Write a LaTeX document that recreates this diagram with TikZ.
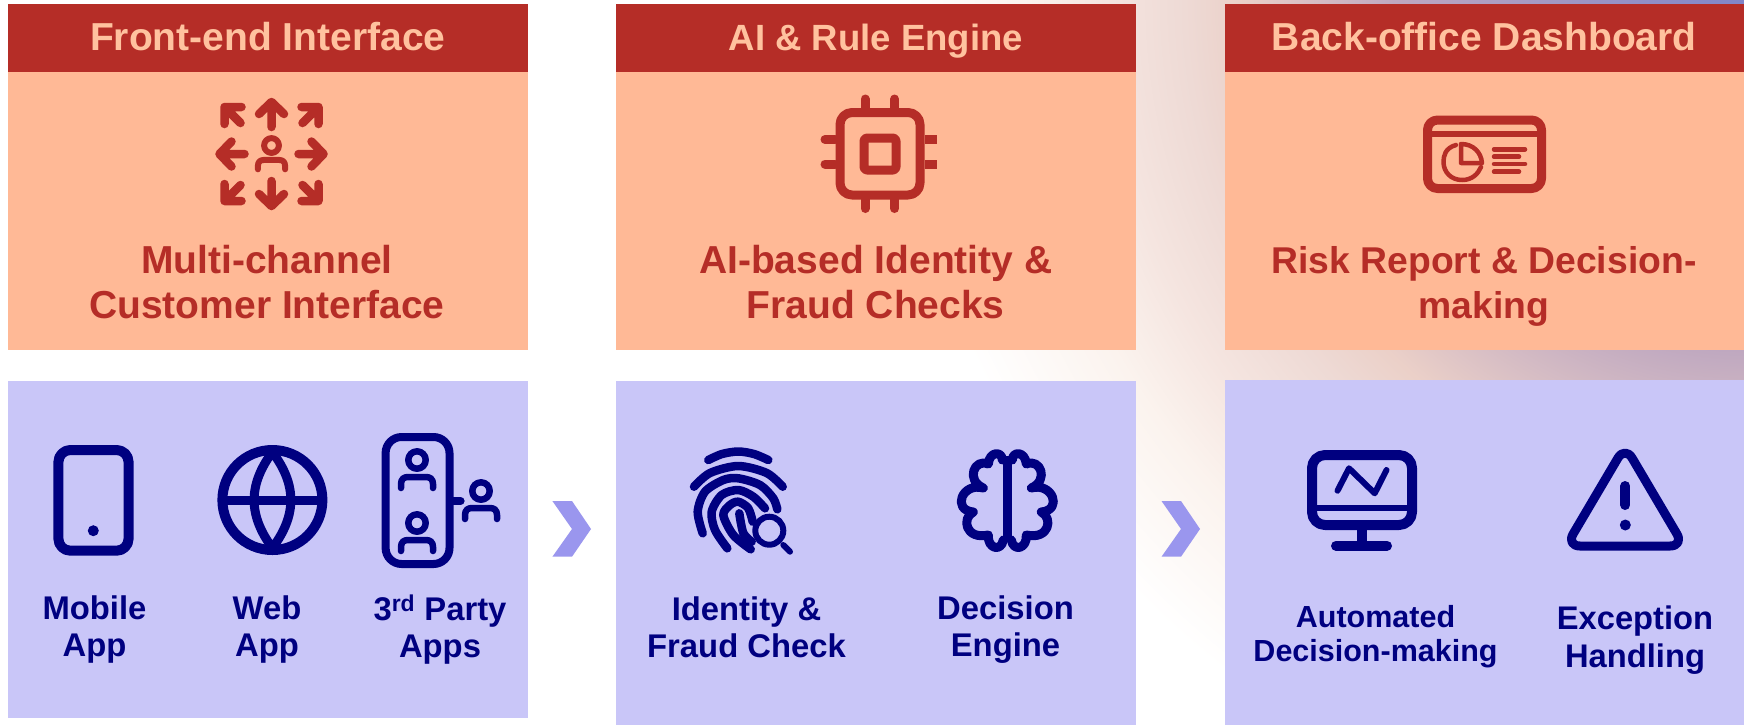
\documentclass[tikz,border=0pt]{standalone}
\usepackage{fontspec}
\usepackage{xcolor}
\usetikzlibrary{positioning}
\setmainfont{Liberation Sans}
\definecolor{headred}{HTML}{B52D27}
\definecolor{bodypeach}{HTML}{FFB996}
\definecolor{headtext}{HTML}{FFC29F}
\definecolor{lowlilac}{HTML}{C9C6F8}
\definecolor{navyink}{HTML}{000080}
\definecolor{chevron}{HTML}{9A96EE}
\definecolor{glowa}{HTML}{7F85C9}
\definecolor{glowb}{HTML}{BFA8C0}
\definecolor{glowc}{HTML}{EBD0C8}
\definecolor{glowd}{HTML}{EEDAD5}
\definecolor{glowe}{HTML}{F5E5E0}
\definecolor{glowf}{HTML}{FBF3EE}
\pgfdeclareradialshading{cornerglow}{\pgfpoint{0bp}{0bp}}{%
color(0bp)=(glowa);
color(10.3bp)=(glowb);
color(14.7bp)=(glowc);
color(16.45bp)=(glowd);
color(18.8bp)=(glowe);
color(21.2bp)=(glowf);
color(25bp)=(white);
color(50bp)=(white)}
\newcommand{\personicon}[3]{
\begin{scope}[shift={(#1,#2)},scale=#3]
\draw (0,0) circle (8.7);
\draw (-16,28) -- (-16,24) .. controls (-16,19) and (-13,17) .. (-9,17) -- (9,17) .. controls (13,17) and (16,19) .. (16,24) -- (16,28);
\end{scope}
}
\begin{document}
\begin{tikzpicture}[x=1pt,y=-1pt,
headbox/.style={fill=headred,text=headtext,minimum width=519.5pt,minimum height=68pt,inner sep=0pt,text height=24pt,text depth=0pt,font=\fontsize{39}{45}\selectfont\bfseries},
bodybox/.style={fill=bodypeach,minimum width=519.5pt,minimum height=278pt,inner sep=0pt,below=0pt of #1},
lowbox/.style={fill=lowlilac,minimum width=519.5pt,inner sep=0pt},
bodytitle/.style={text=headred,align=center,inner sep=0pt,font=\fontsize{39}{45}\selectfont\bfseries},
lowtitle/.style={text=navyink,align=center,inner sep=0pt,font=\fontsize{32.8}{37}\selectfont\bfseries},
redicon/.style={draw=headred,line cap=round,line join=round},
navyicon/.style={draw=navyink,line cap=round,line join=round},
arrowmark/.style={fill=chevron}]
\useasboundingbox (0,0) rectangle (1744,724);
\fill[white] (0,0) rectangle (1744,724);
\begin{scope}
\clip (0,0) rectangle (1744,724);
\shade[shading=cornerglow] (1744,0) circle (850);
\end{scope}

\node[headbox] (head1) at (267.75,38) {Front-end Interface};
\node[bodybox=head1] (body1) {};
\node[lowbox,minimum height=337pt,below=30pt of body1] (low1) {};
\node[headbox,font=\fontsize{36.5}{45}\selectfont\bfseries] (head2) at (875.75,38) {AI \& Rule Engine};
\node[bodybox=head2] (body2) {};
\node[lowbox,minimum height=344pt,below=30pt of body2] (low2) {};
\node[headbox] (head3) at (1484.25,38) {Back-office Dashboard};
\node[bodybox=head3] (body3) {};
\node[lowbox,minimum height=345pt,below=29pt of body3] (low3) {};

\node[bodytitle] (title1) at (267,282) {Multi-channel\\Customer Interface};
\node[bodytitle] (title2) at (875.75,282) {AI-based Identity \&\\Fraud Checks};
\node[bodytitle,font=\fontsize{37.3}{45}\selectfont\bfseries] (title3) at (1484,286) {Risk Report \& Decision-\\making};

\node[lowtitle] (mobile) at (94.5,630) {Mobile\\App};
\node[lowtitle] (web) at (267,630) {Web\\App};
\node[lowtitle] (third) at (440,630) {3\textsuperscript{rd} Party\\Apps};
\node[lowtitle] (identity) at (746.5,627) {Identity \&\\Fraud Check};
\node[lowtitle] (decision) at (1005.5,630) {Decision\\Engine};
\node[lowtitle,font=\fontsize{30.5}{34}\selectfont\bfseries] (automated) at (1375.5,637) {Automated\\Decision-making};
\node[lowtitle,font=\fontsize{32.7}{38.5}\selectfont\bfseries] (exception) at (1635,640) {Exception\\Handling};

\fill[arrowmark] (552.4,501) -- (572,501) -- (591,529) -- (572,556.7) -- (552.4,556.7) -- (572,529) -- cycle;
\fill[arrowmark] (1161.5,501) -- (1181,501) -- (1200,529) -- (1181,556.7) -- (1161.5,556.7) -- (1181,529) -- cycle;

\begin{scope}[shift={(271.5,154)},redicon,line width=8.5pt]
\foreach \a in {0,90,180,270} {
\draw[rotate=\a] (0,-27) -- (0,-50) (-12.5,-40) -- (0,-52) -- (12.5,-40);
\draw[rotate=\a] (-30,-47) -- (-47,-47) -- (-47,-30) (-47,-47) -- (-31,-31);
}
\end{scope}
\begin{scope}[redicon,line width=6pt]
\personicon{271.5}{145.5}{.85}
\end{scope}

\begin{scope}[redicon,line width=9pt]
\draw[rounded corners=12pt] (840,112.5) rectangle (920,195);
\draw[rounded corners=3pt] (864,138) rectangle (896,170);
\foreach \p in {865,894.6} {
\draw (\p,99) -- (\p,108);
\draw (\p,199) -- (\p,208.5);
}
\foreach \p in {139.5,164} {
\draw (825,\p) -- (835,\p);
\draw[line cap=butt] (925,\p) -- (937,\p);
}
\end{scope}

\begin{scope}[redicon,line width=9pt]
\draw[rounded corners=10pt] (1427.5,120) rectangle (1541.5,188.5);
\draw[line width=5.5pt,line cap=butt] (1427.5,134) -- (1541.5,134);
\draw[line width=4.5pt] (1456,145) .. controls (1445,148) and (1443.5,156) .. (1443.5,162) .. controls (1443.5,172) and (1451,180) .. (1462,180) .. controls (1472,180) and (1478,174) .. (1481,167);
\draw[line width=4.5pt] (1461,144) -- (1461,163) -- (1482,163) .. controls (1481,152) and (1473,144) .. (1461,144);
\draw[line width=4.5pt] (1494,149.3) -- (1525,149.3) (1494,156.7) -- (1519,156.7) (1494,164) -- (1525,164) (1494,171.7) -- (1519,171.7);
\end{scope}

\begin{scope}[navyicon,line width=10pt]
\draw[rounded corners=12pt] (58.4,450) rectangle (128.6,550.7);
\fill[navyink] (93.3,530.7) circle (5.5);
\draw (272.4,500) circle (50);
\draw[line width=9pt] (222.4,500) -- (322.4,500);
\draw[line width=9pt] (272.4,452) .. controls (248,485) and (248,515) .. (272.4,548) .. controls (297,515) and (297,485) .. (272.4,452);
\draw[line width=8pt,rounded corners=16pt] (385.6,437) rectangle (449.5,564);
\draw[line width=8pt] (453.5,501) -- (460.6,501);
\end{scope}
\begin{scope}[navyicon,line width=6.5pt]
\personicon{417}{460}{1}
\personicon{417}{523}{1}
\personicon{481}{491}{1}
\end{scope}

\begin{scope}[navyicon,line width=8.5pt]
\draw plot[smooth] coordinates {(708.3,460) (722,454) (738.3,451.5) (754,454) (768.3,460)};
\draw plot[smooth] coordinates {(694,486.7) (710,473) (738.3,466) (766.7,473) (782.7,486.7)};
\draw plot[smooth] coordinates {(702.7,533.3) (697.7,511.7) (705,491.7) (723.3,480) (738.3,478.3) (760,485) (773.3,498.3) (777.3,509.3)};
\draw plot[smooth] coordinates {(727.3,548.3) (715,530) (711.7,511.7) (721.7,495) (738.3,490) (753.3,496.7) (765,508.3)};
\draw plot[smooth] coordinates {(750.7,549.3) (733.3,535) (723.3,515) (730,505) (738.3,501.7) (748.3,508.3) (752.7,521.7)};
\draw plot[smooth] coordinates {(739.3,513.3) (743.3,533) (751.7,541.7)};
\draw[line width=6pt] (769.3,530.7) circle (14);
\draw[line width=6pt] (783.3,545) -- (790,551.7);
\end{scope}

\begin{scope}[navyicon,line width=9pt,shift={(1007.3,0)}]
\foreach \s in {1,-1} {
\begin{scope}[xscale=\s]
\draw (5,460) .. controls (5,451) and (18,451) .. (19,464) .. controls (33,458) and (42,480) .. (24,488) .. controls (45,482) and (56,510) .. (34,512) .. controls (46,518) and (42,540) .. (19,535) .. controls (20,549) and (6,552) .. (4,540);
\end{scope}
}
\draw[line cap=butt] (0,456) -- (0,542);
\end{scope}

\begin{scope}[navyicon,line width=10pt]
\draw[rounded corners=13pt] (1312,455) rectangle (1412,525);
\draw[line width=6pt,line cap=butt] (1312,507.5) -- (1412,507.5);
\draw[line cap=butt] (1361.8,530) -- (1361.8,541);
\draw (1336,545.7) -- (1387,545.7);
\draw[line width=6pt] (1337.5,490.7) -- (1349,468.3) -- (1374.7,493.3) -- (1386.5,470);
\draw[line width=9pt,rounded corners=14pt] (1625,446) -- (1684,546) -- (1566,546) -- cycle;
\draw (1625.3,486) -- (1625.3,505);
\fill[navyink] (1625.3,525) circle (5.5);
\end{scope}
\end{tikzpicture}
\end{document}
